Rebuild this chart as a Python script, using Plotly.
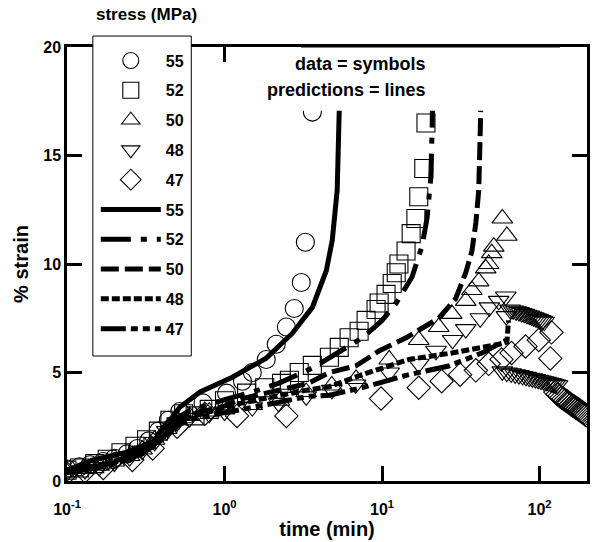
import plotly.graph_objects as go

# ---------------- data (time in min, strain in %) ----------------
stress_labels = ["55", "52", "50", "48", "47"]

# measured data (symbols)
t55 = [0.10, 0.12, 0.14, 0.17, 0.20, 0.24, 0.28, 0.33, 0.38, 0.44, 0.52, 0.73, 1.03, 1.30, 1.50, 1.84, 2.13, 2.47, 2.77, 3.07, 3.26, 3.61]
s55 = [0.55, 0.65, 0.75, 0.90, 1.05, 1.25, 1.50, 1.85, 2.30, 2.80, 3.20, 3.60, 4.05, 4.60, 5.00, 5.60, 6.30, 7.10, 7.95, 9.15, 11.0, 17.0]

t52 = [0.10, 0.12, 0.15, 0.18, 0.22, 0.27, 0.32, 0.38, 0.45, 0.55, 0.65, 0.80, 1.00, 1.38, 1.80, 2.30, 2.58, 2.98, 3.61, 4.63, 5.35, 6.18, 7.15, 7.92, 9.16, 9.58, 10.6, 11.6, 12.3, 12.8, 14.2, 15.3, 16.4, 17.1, 18.4, 19.0]
s52 = [0.50, 0.60, 0.80, 1.00, 1.30, 1.60, 1.90, 2.30, 2.80, 3.10, 3.00, 3.30, 3.70, 4.05, 4.30, 4.50, 4.64, 5.00, 5.33, 5.70, 6.16, 6.60, 6.90, 7.40, 7.90, 8.20, 8.60, 9.10, 9.60, 10.0, 10.6, 11.4, 12.1, 13.1, 14.4, 16.5]

t50 = [0.10, 0.13, 0.16, 0.20, 0.25, 0.30, 0.36, 0.43, 0.50, 0.60, 0.80, 1.00, 1.50, 2.23, 3.30, 4.80, 6.84, 11.1, 17.1, 22.9, 27.7, 34.0, 37.2, 41.1, 45.5, 47.5, 49.7, 51.2, 58.0, 62.0]
s50 = [0.40, 0.55, 0.70, 0.90, 1.15, 1.45, 1.90, 2.40, 2.80, 3.00, 3.20, 3.30, 3.50, 3.70, 4.10, 4.40, 4.70, 5.60, 6.50, 7.10, 7.70, 8.30, 8.80, 9.20, 9.80, 10.0, 10.5, 10.8, 12.1, 11.3]

t48 = [0.10, 0.13, 0.16, 0.20, 0.25, 0.30, 0.36, 0.43, 0.50, 0.60, 0.80, 1.00, 1.50, 2.20, 3.30, 4.80, 6.80, 11.1, 17.1, 22.0, 28.0, 34.0, 42.0, 48.0, 55.0, 61.0, 61.5,
       65, 68, 71, 74, 77, 80, 83, 86, 89, 92, 95, 98, 101, 104, 107,
       58, 62, 66, 70, 74, 78, 82, 86, 90, 94, 98, 102, 106, 110, 114, 118, 122, 126, 130]
s48 = [0.40, 0.50, 0.65, 0.85, 1.10, 1.40, 1.80, 2.30, 2.70, 2.90, 3.10, 3.20, 3.40, 3.60, 3.90, 4.20, 4.45, 5.00, 5.40, 6.00, 6.50, 7.00, 7.50, 8.00, 8.30, 8.50, 7.60,
       7.90, 7.86, 7.82, 7.78, 7.74, 7.70, 7.66, 7.62, 7.58, 7.54, 7.50, 7.46, 7.42, 7.38, 7.34,
       5.05, 5.00, 4.96, 4.92, 4.88, 4.84, 4.80, 4.76, 4.73, 4.70, 4.66, 4.63, 4.60, 4.57, 4.54, 4.51, 4.48, 4.45, 4.42]

t47 = [0.10, 0.13, 0.17, 0.26, 0.35, 0.50, 0.75, 1.20, 2.47, 9.85, 17.1, 23.9, 31.3, 39.4, 47.5, 57.3, 66.4, 81.4, 98.8, 119, 117,
       126, 130, 134, 138, 142, 146, 150, 154, 158, 162, 166, 170, 174, 178, 182, 186, 190, 194, 198]
s47 = [0.35, 0.45, 0.60, 0.97, 1.50, 2.50, 3.10, 3.00, 3.00, 3.80, 4.30, 4.60, 4.90, 5.10, 5.40, 5.60, 5.90, 6.20, 6.50, 6.85, 5.65,
       4.10, 4.00, 3.92, 3.85, 3.78, 3.72, 3.66, 3.60, 3.54, 3.48, 3.43, 3.38, 3.33, 3.28, 3.23, 3.18, 3.13, 3.08, 3.03]

# model predictions (lines)
pt55 = [0.10, 0.146, 0.24, 0.35, 0.45, 0.52, 0.70, 1.12, 1.84, 2.69, 3.61, 4.43, 4.83, 5.19, 5.34, 5.45]
ps55 = [0.50, 0.97, 1.33, 1.80, 2.80, 3.40, 4.10, 4.78, 5.66, 6.80, 8.00, 9.70, 11.1, 13.4, 16.9, 20.5]

pt52 = [0.10, 0.15, 0.20, 0.30, 0.40, 0.50, 0.60, 0.80, 1.00, 1.50, 2.20, 3.60, 5.00, 7.50, 10.0, 12.3, 15.5, 17.9, 19.3, 20.4, 20.8, 21.2]
ps52 = [0.45, 0.70, 0.95, 1.40, 2.10, 2.90, 3.25, 3.55, 3.75, 4.10, 4.50, 5.20, 5.80, 6.60, 7.40, 8.20, 9.40, 10.8, 12.1, 14.0, 16.3, 20.5]

pt50 = [0.10, 0.15, 0.20, 0.30, 0.40, 0.50, 0.60, 0.80, 1.00, 1.30, 3.40, 4.63, 6.80, 9.60, 14.2, 22.9, 29.3, 34.0, 37.2, 39.4, 41.1, 42.3, 43.0]
ps50 = [0.42, 0.65, 0.90, 1.35, 2.00, 2.75, 3.05, 3.30, 3.45, 3.80, 4.50, 5.00, 5.30, 6.00, 6.60, 7.50, 8.40, 9.60, 10.6, 11.9, 13.4, 17.0, 20.5]

pt48 = [0.10, 0.15, 0.20, 0.30, 0.40, 0.50, 0.60, 0.80, 1.00, 1.30, 3.40, 4.63, 7.46, 14.8, 27.7, 41.0, 55.0, 62.0, 63.5]
ps48 = [0.40, 0.62, 0.85, 1.30, 1.95, 2.65, 2.95, 3.20, 3.35, 3.60, 4.20, 4.35, 4.90, 5.60, 5.90, 6.10, 6.30, 6.40, 7.40]

pt47 = [0.10, 0.15, 0.20, 0.30, 0.40, 0.50, 0.60, 0.80, 1.00, 1.30, 3.40, 4.63, 7.46, 14.8, 26.5, 43.0, 55.0, 62.0]
ps47 = [0.38, 0.58, 0.80, 1.25, 1.90, 2.55, 2.85, 3.05, 3.15, 3.30, 3.90, 3.95, 4.30, 4.90, 5.30, 5.90, 6.30, 6.50]

x_tickvals = [0.1, 1, 10, 100]
x_ticktext = ["10<sup>-1</sup>", "10<sup>0</sup>", "10<sup>1</sup>", "10<sup>2</sup>"]
y_tickvals = [0, 5, 10, 15, 20]

# ---------------- styling ----------------
FONT = "Liberation Sans, Arial, Helvetica, sans-serif"
symbols = ["circle-open", "square-open", "triangle-up-open", "triangle-down-open", "diamond-open"]
dashes = ["solid", "30px,10px,6px,10px", "18px,6px", "8px,3px", "25px,5px,7px,5px,7px,5px"]

data_t = [t55, t52, t50, t48, t47]
data_s = [s55, s52, s50, s48, s47]
pred_t = [pt55, pt52, pt50, pt48, pt47]
pred_s = [ps55, ps52, ps50, ps48, ps47]

fig = go.Figure()

for i, lab in enumerate(stress_labels):
    fig.add_trace(go.Scatter(
        x=data_t[i], y=data_s[i], mode="markers", name=lab,
        legendgroup="d" + lab,
        marker=dict(symbol=symbols[i], size=18, color="black", line=dict(width=1.1, color="black")),
    ))

for i, lab in enumerate(stress_labels):
    fig.add_trace(go.Scatter(
        x=pred_t[i], y=pred_s[i], mode="lines", name=lab,
        legendgroup="p" + lab,
        line=dict(color="black", width=5, dash=dashes[i]),
    ))

fig.update_xaxes(
    type="log", range=[-1, 2.301],
    tickvals=x_tickvals, ticktext=x_ticktext,
    ticks="inside", ticklen=15, tickwidth=2.5, tickcolor="black",
    showline=True, linewidth=2.5, linecolor="black", mirror="ticks",
    showgrid=False, zeroline=False, ticklabelstandoff=12,
    tickfont=dict(family=FONT, size=16, color="black", weight="bold"),
    title=dict(text="time (min)", font=dict(family=FONT, size=20, color="black", weight="bold"), standoff=2),
)
fig.update_yaxes(
    range=[0, 20], tickvals=y_tickvals,
    ticks="inside", ticklen=15, tickwidth=2.5, tickcolor="black",
    showline=True, linewidth=2.5, linecolor="black", mirror="ticks",
    showgrid=False, zeroline=False,
    tickfont=dict(family=FONT, size=16, color="black", weight="bold"),
    title=dict(text="% strain", font=dict(family=FONT, size=20, color="black", weight="bold"), standoff=10),
)

# white box holding the note (covers the top of the plot as in the original)
fig.add_shape(type="rect", xref="paper", yref="paper", x0=0.45, x1=0.948, y0=0.853, y1=1.0,
              fillcolor="white", line=dict(width=0), layer="above")
fig.add_shape(type="line", xref="paper", yref="paper", x0=0.45, x1=0.948, y0=1.0, y1=1.0,
              line=dict(width=1, color="black"), layer="above")
# legend frame (white, covering the data beneath it)
fig.add_shape(type="rect", xref="paper", yref="paper", x0=0.0497, x1=0.239, y0=0.288, y1=1.0253,
              fillcolor="white", line=dict(width=1, color="black"), layer="above")

fig.add_annotation(xref="paper", yref="paper", x=0.695, y=0.96, yanchor="middle",
                   text="data = symbols", showarrow=False,
                   font=dict(family=FONT, size=18, color="black", weight="bold"))
fig.add_annotation(xref="paper", yref="paper", x=0.695, y=0.902, yanchor="middle",
                   text="predictions = lines", showarrow=False,
                   font=dict(family=FONT, size=18, color="black", weight="bold"))
fig.add_annotation(xref="paper", yref="paper", x=0.052, y=1.075, xanchor="left", yanchor="middle",
                   text="stress (MPa)", showarrow=False,
                   font=dict(family=FONT, size=17, color="black", weight="bold"))

fig.update_layout(
    width=592, height=542,
    margin=dict(l=67, r=2, t=47, b=61),
    paper_bgcolor="white", plot_bgcolor="white",
    font=dict(family=FONT, color="black"),
    legend=dict(
        x=0.0554, y=1.008, xanchor="left", yanchor="top",
        bgcolor="rgba(0,0,0,0)", borderwidth=0,
        font=dict(family=FONT, size=16, color="black", weight="bold"),
        tracegroupgap=6, itemwidth=60, maxheight=1,
    ),
)

fig.write_html("out.html")
